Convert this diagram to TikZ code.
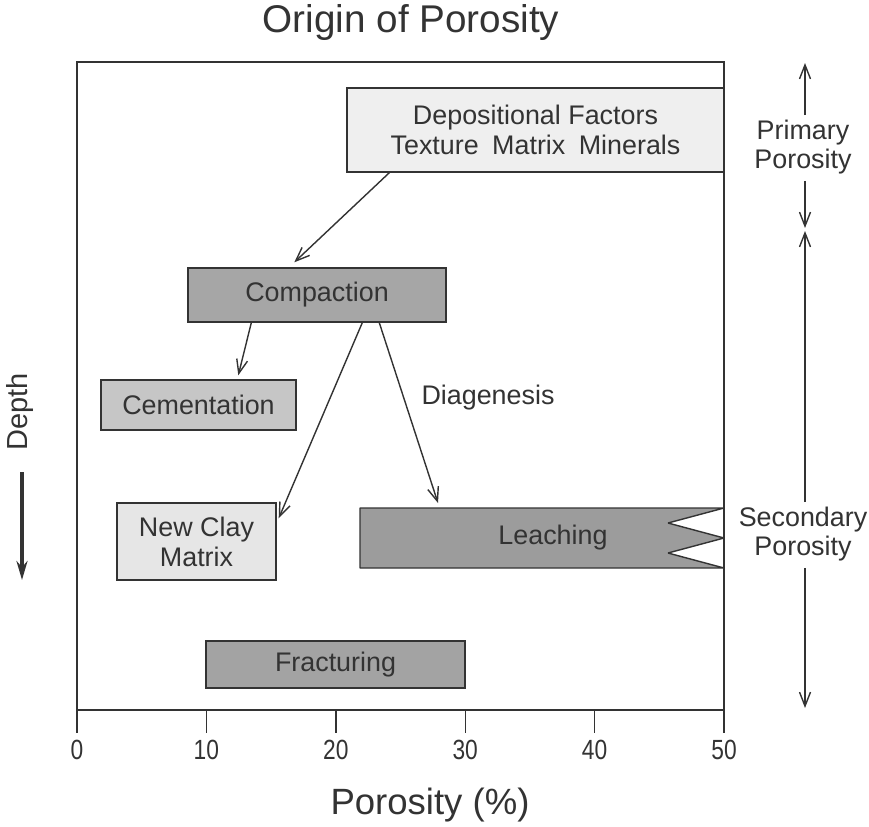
\documentclass[tikz,border=0pt]{standalone}
\usepackage{fontspec}
\setmainfont{Liberation Sans}
\usetikzlibrary{arrows.meta}

\definecolor{inkgray}{HTML}{333333}
\definecolor{depfill}{HTML}{EFEFEF}
\definecolor{compfill}{HTML}{A6A6A6}
\definecolor{cemfill}{HTML}{C6C6C6}
\definecolor{clayfill}{HTML}{E6E6E6}
\definecolor{leachfill}{HTML}{9C9C9C}
\definecolor{fracfill}{HTML}{A3A3A3}

\tikzset{
  box/.style={draw=inkgray, line width=0.8pt, text=inkgray, align=center,
    font=\fontsize{15.3}{17}\selectfont, inner sep=0pt},
  lbl/.style={text=inkgray, align=center, font=\fontsize{15.3}{17}\selectfont, inner sep=0pt},
  link/.style={draw=inkgray, line width=0.8pt, -{Straight Barb[length=0.28cm, width=0.22cm]}},
  ticklbl/.style={text=inkgray, font=\fontsize{15.8}{18}\selectfont, inner sep=0pt}
}

\begin{document}
\begin{tikzpicture}[x=0.02cm, y=-0.02cm]
    \useasboundingbox (0,0) rectangle (869,826);

    % Frame and axis
    \draw[inkgray, line width=0.8pt] (77,62) rectangle (724,710);
    \foreach \v in {0,...,5} {
        \pgfmathtruncatemacro{\pct}{10*\v}
        \draw[inkgray, line width=0.8pt] (77+129.4*\v,710) -- ++(0,23);
        \node[ticklbl] at (77+129.4*\v,750) {\scalebox{0.82}[1]{\pct}};
    }
    \node[lbl, font=\fontsize{22}{24}\selectfont] (title) at (411,22) {Origin of Porosity};
    \node[lbl, font=\fontsize{20.8}{24}\selectfont] (xlabel) at (430,805) {Porosity (\%)};

    % Depth
    \node[lbl, rotate=90, font=\fontsize{16.5}{18}\selectfont] (depth) at (20,412) {Depth};
    \coordinate (deptip) at (22,580);
    \draw[inkgray, line width=1.8pt, -{Stealth[length=0.38cm, width=0.22cm]}] (22,472) -- (deptip);

    % Boxes
    \node[box, fill=depfill, minimum width=7.54cm, minimum height=1.68cm] (dep) at (535.5,130)
        {Depositional Factors\\Texture\enspace Matrix\enspace Minerals};
    \node[box, fill=compfill, minimum width=5.16cm, minimum height=1.08cm] (comp) at (317,295) {Compaction};
    \node[box, fill=cemfill, minimum width=3.9cm, minimum height=1.0cm] (cem) at (198.5,405) {Cementation};
    \node[box, fill=clayfill, minimum width=3.18cm, minimum height=1.54cm] (clay) at (196.5,541.5) {New Clay\\Matrix};
    \filldraw[draw=inkgray, line width=0.8pt, line join=bevel, fill=leachfill] (360,508) -- (724,508) -- (668,523)
        -- (724,538) -- (668,553) -- (724,568) -- (360,568) -- cycle;
    \node[lbl] (leach) at (553,538) {Leaching};
    \coordinate (leachin) at (438,503);
    \node[box, fill=fracfill, minimum width=5.18cm, minimum height=0.94cm] (frac) at (335.5,664.5) {Fracturing};
    \node[lbl] (diag) at (488,398) {Diagenesis};

    % Links
    \draw[link] ([xshift=0.86cm]dep.south west) -- ([xshift=2.14cm, yshift=0.1cm]comp.north west);
    \draw[link] ([xshift=1.28cm]comp.south west) -- ([xshift=2.76cm, yshift=0.08cm]cem.north west);
    \draw[link] ([xshift=3.5cm]comp.south west) -- ([xshift=0.04cm, yshift=-0.32cm]clay.north east);
    \draw[link] ([xshift=3.84cm]comp.south west) -- (leachin);

    % Porosity ranges
    \node[lbl] (prim) at (803,147) {Primary\\Porosity};
    \node[lbl] (sec) at (803,534) {Secondary\\Porosity};
    \coordinate (primtop) at (805,63);
    \coordinate (primbot) at (805,228);
    \coordinate (sectop) at (805,231);
    \coordinate (secbot) at (805,708);
    \draw[link] ([yshift=0.08cm]prim.north -| primtop) -- (primtop);
    \draw[link] ([yshift=-0.12cm]prim.south -| primbot) -- (primbot);
    \draw[link] ([yshift=0.08cm]sec.north -| sectop) -- (sectop);
    \draw[link] ([yshift=-0.12cm]sec.south -| secbot) -- (secbot);
\end{tikzpicture}
\end{document}
